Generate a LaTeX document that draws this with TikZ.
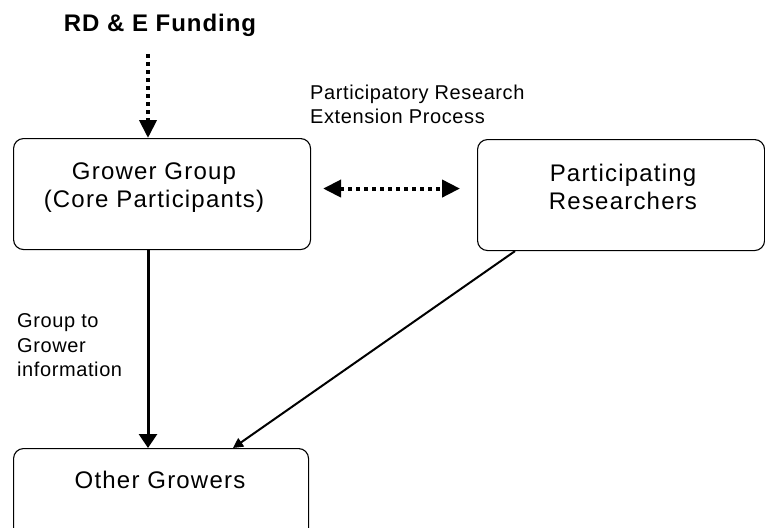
\documentclass[tikz,border=0pt]{standalone}
\usepackage{fontspec}
\setmainfont{Liberation Sans}
\newfontfamily\boxfont{Liberation Sans}[LetterSpace=5.0]
\newfontfamily\lblfont{Liberation Sans}[LetterSpace=3.0]
\newfontfamily\headfont{Liberation Sans}[LetterSpace=4.0]
\usetikzlibrary{arrows.meta,calc}
\tikzset{
  roundbox/.style={draw=black, line width=1.1pt, rounded corners=10pt, inner sep=0pt, anchor=north west},
  boxtext/.style={font=\boxfont\fontsize{24}{28}\selectfont, align=center, inner sep=0pt, anchor=north},
  smalltext/.style={font=\lblfont\fontsize{20}{24.3}\selectfont, align=left, inner sep=0pt, anchor=north west},
  dotarrow/.style={line width=4pt, dash pattern=on 4pt off 4pt},
  bigtip/.tip={Triangle[length=18pt, width=17pt]}
}
\begin{document}
\begin{tikzpicture}[x=1pt, y=-1pt]
\useasboundingbox (0,0) rectangle (765,527);
% boxes
\node[roundbox, minimum width=297pt, minimum height=111pt] (gg) at (13,138) {};
\node[roundbox, minimum width=287pt, minimum height=111pt] (pr) at (477,139) {};
\node[roundbox, minimum width=295pt, minimum height=100pt] (og) at (13,448) {};
% texts
\node[boxtext] (ggt) at (154,162.5) {Grower Group\\(Core Participants)};
\node[boxtext] (prt) at (623,163.5) {Participating\\Researchers};
\node[boxtext] (ogt) at (160,470.5) {Other Growers};
\node[font=\headfont\bfseries\fontsize{24}{28}\selectfont, inner sep=0pt, anchor=base] (fund) at (160,32) {RD \& E Funding};
\node[smalltext] (prep) at (310,84.7) {Participatory Research\\Extension Process};
\node[smalltext] (g2g) at (17,313.7) {Group to\\Grower\\information};
% connectors
\draw[dotarrow, -{bigtip}] ($(fund.base)+(-12,22)$) -- ($(gg.north west)+(135,0)$);
\draw[dotarrow, {bigtip}-{bigtip}] ($(gg.east)+(12,-5.5)$) -- ($(pr.west)+(-17,-6.5)$);
\draw[line width=3pt, -{Triangle[length=14pt, width=18pt]}] ($(gg.south west)+(135,0)$) -- ($(og.north west)+(135,0)$);
\draw[line width=2pt, -{Triangle[length=10pt, width=10pt]}] ($(pr.south west)+(38,0)$) -- ($(og.north west)+(220,0)$);
\end{tikzpicture}
\end{document}
